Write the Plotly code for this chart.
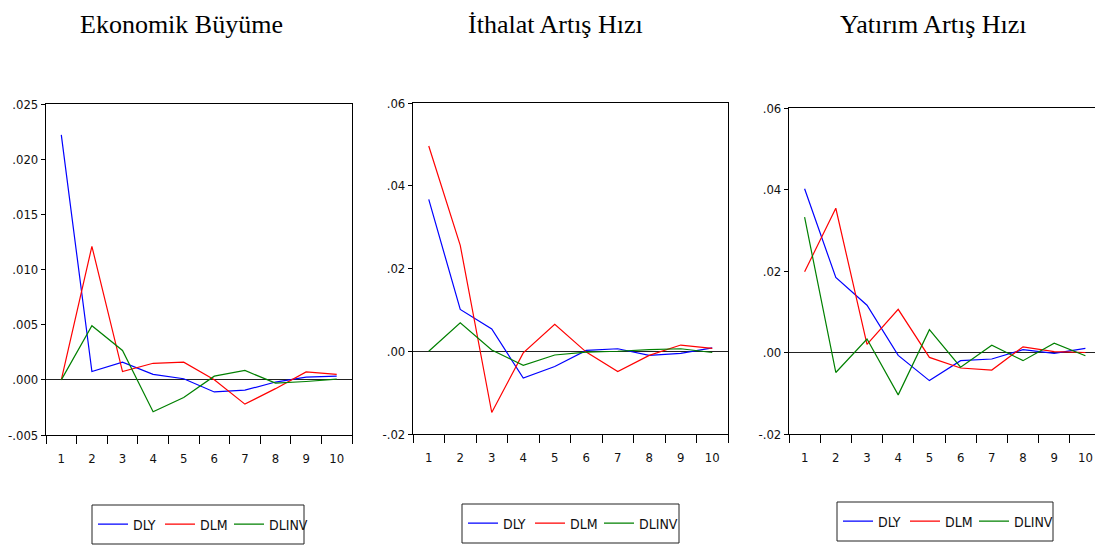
import plotly.graph_objects as go

# impulse-response periods
steps = list(range(1, 11))
series_names = ["DLY", "DLM", "DLINV"]
series_colors = ["#0000ff", "#ff0000", "#008000"]

# Ekonomik Büyüme
gdp_dly = [0.0222, 0.00075, 0.0016, 0.0005, 0.0001, -0.0011, -0.00094, -0.0002, 0.00024, 0.00033]
gdp_dlm = [0.0, 0.0121, 0.00075, 0.0015, 0.0016, 0.0, -0.0022, -0.0008, 0.00072, 0.0005]
gdp_dlinv = [0.0, 0.0049, 0.00266, -0.0029, -0.0016, 0.00033, 0.00085, -0.0003, -0.00015, 0.00006]

# İthalat Artış Hızı
imp_dly = [0.0367, 0.0101, 0.0054, -0.0065, -0.0037, 0.0002, 0.0006, -0.001, -0.0005, 0.0008]
imp_dlm = [0.0496, 0.0256, -0.0148, -0.0004, 0.0065, -0.0002, -0.0049, -0.001, 0.0015, 0.0007]
imp_dlinv = [0.0, 0.0069, 0.0003, -0.0034, -0.0009, -0.0002, 0.0, 0.0004, 0.0006, -0.0003]

# Yatırım Artış Hızı
inv_dly = [0.0402, 0.0184, 0.0116, -0.0007, -0.0069, -0.002, -0.0016, 0.0007, -0.0002, 0.001]
inv_dlm = [0.0198, 0.0354, 0.002, 0.0106, -0.0012, -0.0038, -0.0043, 0.0014, 0.0002, 0.0]
inv_dlinv = [0.0332, -0.0049, 0.0033, -0.0104, 0.0056, -0.0036, 0.0018, -0.002, 0.0023, -0.0008]

gdp_ticks = [-0.005, 0.0, 0.005, 0.01, 0.015, 0.02, 0.025]
gdp_ticktext = ["-.005", ".000", ".005", ".010", ".015", ".020", ".025"]
rate_ticks = [-0.02, 0.0, 0.02, 0.04, 0.06]
rate_ticktext = ["-.02", ".00", ".02", ".04", ".06"]

# the page body has an 8px margin, so the figure is shrunk and shifted by it
PAGE_W, PAGE_H, BODY = 1103, 547, 8
W, H = PAGE_W - BODY, PAGE_H - BODY
SANS = "DejaVu Sans Condensed, Liberation Sans Narrow, Arial Narrow, Liberation Sans, sans-serif"
SERIF = "Liberation Serif, Times New Roman, serif"
LEGEND_ITEM_W = [22, 24, 40]  # px per legend entry, keeps EViews-like spacing


def fx(px):
    return (px - BODY) / W


def fy(py):
    return 1 - (py - BODY) / H


panels = [
    dict(title="Ekonomik Büyüme", data=[gdp_dly, gdp_dlm, gdp_dlinv],
         plot=(46, 352, 104, 435), yrange=[-0.005, 0.025],
         ticks=gdp_ticks, ticktext=gdp_ticktext, title_x=181,
         legend_box=(92, 304, 505, 544)),
    dict(title="İthalat Artış Hızı", data=[imp_dly, imp_dlm, imp_dlinv],
         plot=(413, 728, 103, 434), yrange=[-0.02, 0.06],
         ticks=rate_ticks, ticktext=rate_ticktext, title_x=555,
         legend_box=(462, 679, 504, 543)),
    dict(title="Yatırım Artış Hızı", data=[inv_dly, inv_dlm, inv_dlinv],
         plot=(789, 1101, 108, 434), yrange=[-0.02, 0.06],
         ticks=rate_ticks, ticktext=rate_ticktext, title_x=933,
         legend_box=(837, 1053, 502, 541)),
]

fig = go.Figure()
layout = dict(
    width=W, height=H,
    margin=dict(l=0, r=0, t=0, b=0, autoexpand=False),
    paper_bgcolor="white", plot_bgcolor="white",
    font=dict(family=SANS, size=13, color="#111"),
    annotations=[], shapes=[],
)

boundaries = [s - 0.5 for s in steps] + [steps[-1] + 0.5]

for i, p in enumerate(panels):
    n = "" if i == 0 else str(i + 1)
    leg = "legend" + n
    for name, color, vals, lw in zip(series_names, series_colors, p["data"], LEGEND_ITEM_W):
        fig.add_trace(go.Scatter(
            x=steps, y=vals, mode="lines", name=name,
            line=dict(color=color, width=1.2),
            xaxis="x" + n, yaxis="y" + n, legend=leg, legendwidth=lw,
        ))

    x0, x1, y0, y1 = p["plot"]
    layout["xaxis" + n] = dict(
        domain=[fx(x0), fx(x1)], anchor="y" + n, range=[0.5, 10.5],
        tickmode="array", tickvals=steps, ticktext=[str(s) for s in steps],
        ticks="outside", ticklen=11, tickcolor="rgba(0,0,0,0)",
        minor=dict(tickmode="array", tickvals=boundaries, ticks="outside",
                   ticklen=8, tickcolor="black", tickwidth=1),
        showline=True, linecolor="black", linewidth=1.2, mirror=True,
        showgrid=False, zeroline=False, fixedrange=True, automargin=False,
    )
    layout["yaxis" + n] = dict(
        domain=[fy(y1), fy(y0)], anchor="x" + n, range=p["yrange"],
        tickmode="array", tickvals=p["ticks"], ticktext=p["ticktext"],
        ticks="outside", ticklen=4, tickcolor="black",
        showline=True, linecolor="black", linewidth=1.2, mirror=True,
        showgrid=False, zeroline=True, zerolinecolor="#222", zerolinewidth=1.2,
        fixedrange=True, automargin=False,
    )

    layout["annotations"].append(dict(
        text=p["title"], xref="paper", yref="paper",
        x=fx(p["title_x"]), y=1, xanchor="center", yanchor="top",
        showarrow=False, font=dict(family=SERIF, size=26, color="black"),
    ))

    bx0, bx1, by0, by1 = p["legend_box"]
    layout["shapes"].append(dict(
        type="rect", xref="paper", yref="paper",
        x0=fx(bx0), x1=fx(bx1), y0=fy(by1), y1=fy(by0),
        line=dict(color="#222", width=1), fillcolor="rgba(0,0,0,0)",
    ))
    layout[leg] = dict(
        orientation="h", xref="paper", yref="paper",
        x=fx(bx0 + 1), y=fy((by0 + by1) / 2),
        xanchor="left", yanchor="middle",
        bgcolor="rgba(0,0,0,0)", borderwidth=0,
        font=dict(family=SANS, size=14, color="#111"),
    )

fig.update_layout(**layout)
fig.write_html("out.html")
